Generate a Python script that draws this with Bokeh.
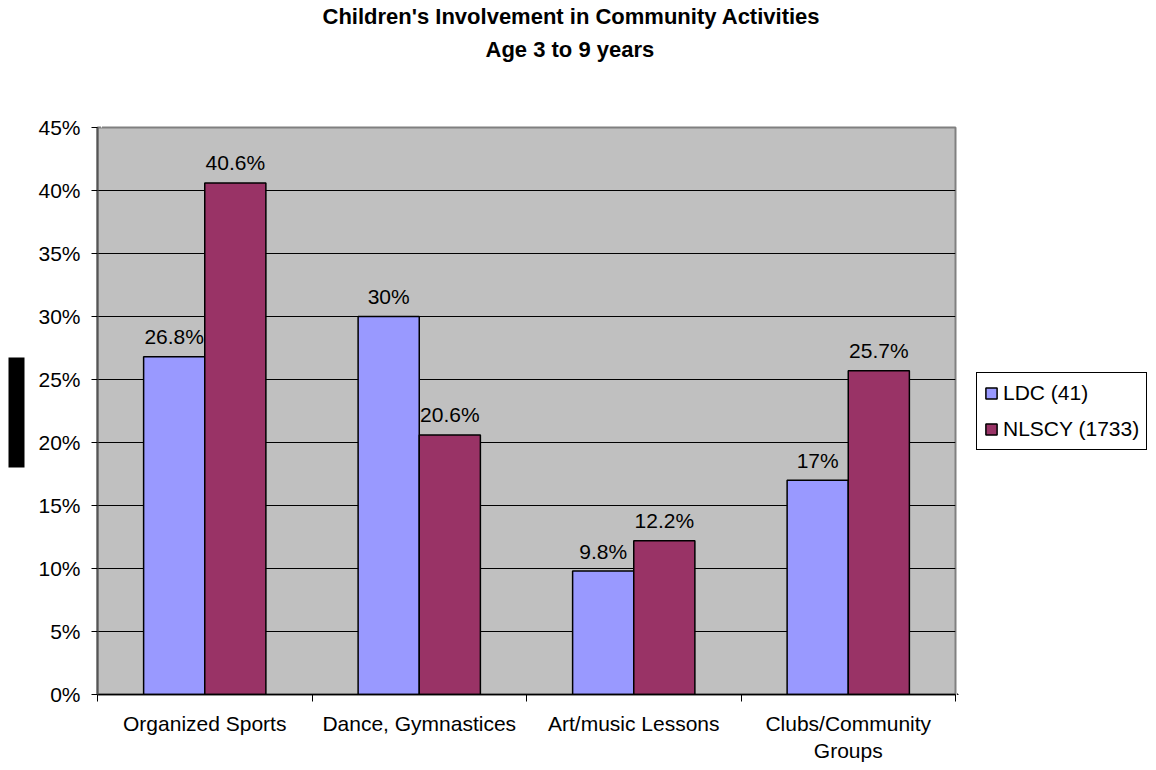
from bokeh.plotting import figure
from bokeh.layouts import row
from bokeh.models import (ColumnDataSource, FixedTicker, NumeralTickFormatter, Title,
                          Legend, LegendItem, LinearAxis, Range1d)
from bokeh.core.properties import value
from bokeh.embed import file_html
from bokeh.resources import INLINE

# ---- data ----
categories = ["Organized Sports", "Dance, Gymnastices", "Art/music Lessons", "Clubs/Community\nGroups"]
ldc_values = [26.8, 30.0, 9.8, 17.0]
nlscy_values = [40.6, 20.6, 12.2, 25.7]
series_names = ["LDC (41)", "NLSCY (1733)"]
y_ticks = [0, 5, 10, 15, 20, 25, 30, 35, 40, 45]
title_lines = ["Children's Involvement in Community Activities", "Age 3 to 9 years"]

FONT = "Liberation Sans"
FS = "21px"
TFS = "22px"
LDC_COLOR = "#9999FF"
NLSCY_COLOR = "#993366"
BAR_W = 0.285
H = 768

centers = [i + 0.5 for i in range(len(categories))]

def lab(v):
    return f"{v:g}%"

src_ldc = ColumnDataSource(dict(
    x=[c - BAR_W / 2 for c in centers],
    top=[v / 100 for v in ldc_values],
    label=[lab(v) for v in ldc_values],
))
src_nl = ColumnDataSource(dict(
    x=[c + BAR_W / 2 for c in centers],
    top=[v / 100 for v in nlscy_values],
    label=[lab(v) for v in nlscy_values],
))

p = figure(width=957, height=H,
           min_border_left=97, min_border_right=2,
           min_border_top=127, min_border_bottom=74,
           x_range=Range1d(0, len(categories)), y_range=Range1d(0, max(y_ticks) / 100),
           output_backend="svg", toolbar_location=None, tools="")
p.background_fill_color = "#C0C0C0"
p.border_fill_color = "white"
p.outline_line_color = "#808080"
p.outline_line_width = 2

r1 = p.vbar(x="x", top="top", width=BAR_W, source=src_ldc,
            fill_color=LDC_COLOR, line_color="black", line_width=1.5)
r2 = p.vbar(x="x", top="top", width=BAR_W, source=src_nl,
            fill_color=NLSCY_COLOR, line_color="black", line_width=1.5)

for s in (src_ldc, src_nl):
    p.text(x="x", y="top", text="label", source=s, text_align="center",
           text_baseline="alphabetic", y_offset=-20, text_font=value(FONT),
           text_font_size=FS, text_color="black")

# grid
p.xgrid.visible = False
p.ygrid.ticker = FixedTicker(ticks=[t / 100 for t in y_ticks])
p.ygrid.grid_line_color = "black"
p.ygrid.grid_line_width = 1

# y axis
p.yaxis.ticker = FixedTicker(ticks=[t / 100 for t in y_ticks])
p.yaxis.formatter = NumeralTickFormatter(format="0%")
p.yaxis.major_tick_out = 6
p.yaxis.major_tick_in = 0
p.yaxis.minor_tick_out = 0
p.yaxis.major_label_standoff = 11
p.yaxis.axis_line_color = "#555555"
p.yaxis.axis_line_width = 2
p.yaxis.major_label_text_font = FONT
p.yaxis.major_label_text_font_size = FS
p.yaxis.major_label_text_color = "black"

# x axis
p.xaxis.ticker = FixedTicker(ticks=centers, minor_ticks=list(range(len(categories) + 1)))
p.xaxis.major_label_overrides = {c: name for c, name in zip(centers, categories)}
p.xaxis.major_tick_out = 0
p.xaxis.major_tick_in = 0
p.xaxis.minor_tick_out = 7
p.xaxis.minor_tick_in = 0
p.xaxis.minor_tick_line_color = "black"
p.xaxis.major_label_standoff = 10
p.xaxis.axis_line_color = "black"
p.xaxis.axis_line_width = 1.5
p.xaxis.major_label_text_font = FONT
p.xaxis.major_label_text_font_size = FS
p.xaxis.major_label_text_color = "black"


def spacer(size, at):
    # invisible axis used only to reserve space in a side panel
    return LinearAxis(ticker=FixedTicker(ticks=[at]), major_label_overrides={at: ""},
                      major_label_text_font_size="0px", major_label_standoff=0,
                      major_tick_out=size, major_tick_in=0, minor_tick_out=0, minor_tick_in=0,
                      major_tick_line_color="white", axis_line_alpha=0)


# title (stacked above; first added is nearest the frame)
p.add_layout(spacer(66, 0.02), "above")
p.add_layout(Title(text=title_lines[1], align="left", offset=388, standoff=0,
                   text_font=FONT, text_font_size=TFS, text_font_style="bold",
                   text_color="black"), "above")
p.add_layout(spacer(6, 0.02), "above")
p.add_layout(Title(text=title_lines[0], align="left", offset=225, standoff=0,
                   text_font=FONT, text_font_size=TFS, text_font_style="bold",
                   text_color="black"), "above")

# black block at left (drawn as a bounded thick axis line)
p.add_layout(spacer(19, 0.02), "left")
block = LinearAxis(ticker=FixedTicker(ticks=[]), bounds=(0.1802, 0.2675),
                   major_tick_out=0, major_tick_in=0, minor_tick_out=0, minor_tick_in=0,
                   major_label_standoff=0, axis_line_color="black", axis_line_width=16,
                   axis_line_cap="butt")
p.add_layout(block, "left")

# legend panel (separate figure to the right of the chart; its own ranges keep
# the bars out of view so only the legend shows)
p2 = figure(width=197, height=H, min_border=0, x_axis_type=None, y_axis_type=None,
            x_range=Range1d(10, 20), y_range=Range1d(10, 20),
            output_backend="svg", toolbar_location=None, tools="")
p2.outline_line_color = None
p2.background_fill_color = "white"
p2.border_fill_color = "white"
g1 = p2.vbar(x="x", top="top", width=BAR_W, source=src_ldc,
             fill_color=LDC_COLOR, line_color="black", line_width=1.5)
g2 = p2.vbar(x="x", top="top", width=BAR_W, source=src_nl,
             fill_color=NLSCY_COLOR, line_color="black", line_width=1.5)
legend = Legend(items=[LegendItem(label=series_names[0], renderers=[g1]),
                       LegendItem(label=series_names[1], renderers=[g2])],
                location=(19, 244))
legend.margin = 0
legend.border_line_color = "black"
legend.border_line_alpha = 1
legend.border_line_width = 1
legend.background_fill_color = "white"
legend.background_fill_alpha = 1
legend.label_text_font = FONT
legend.label_text_font_size = FS
legend.label_text_color = "black"
legend.label_height = 26
legend.glyph_height = 14
legend.glyph_width = 14
legend.label_standoff = 5
legend.spacing = 10
legend.padding = 7
p2.add_layout(legend, "center")

layout = row(p, p2)
open("out.html", "w").write(file_html(layout, INLINE))
